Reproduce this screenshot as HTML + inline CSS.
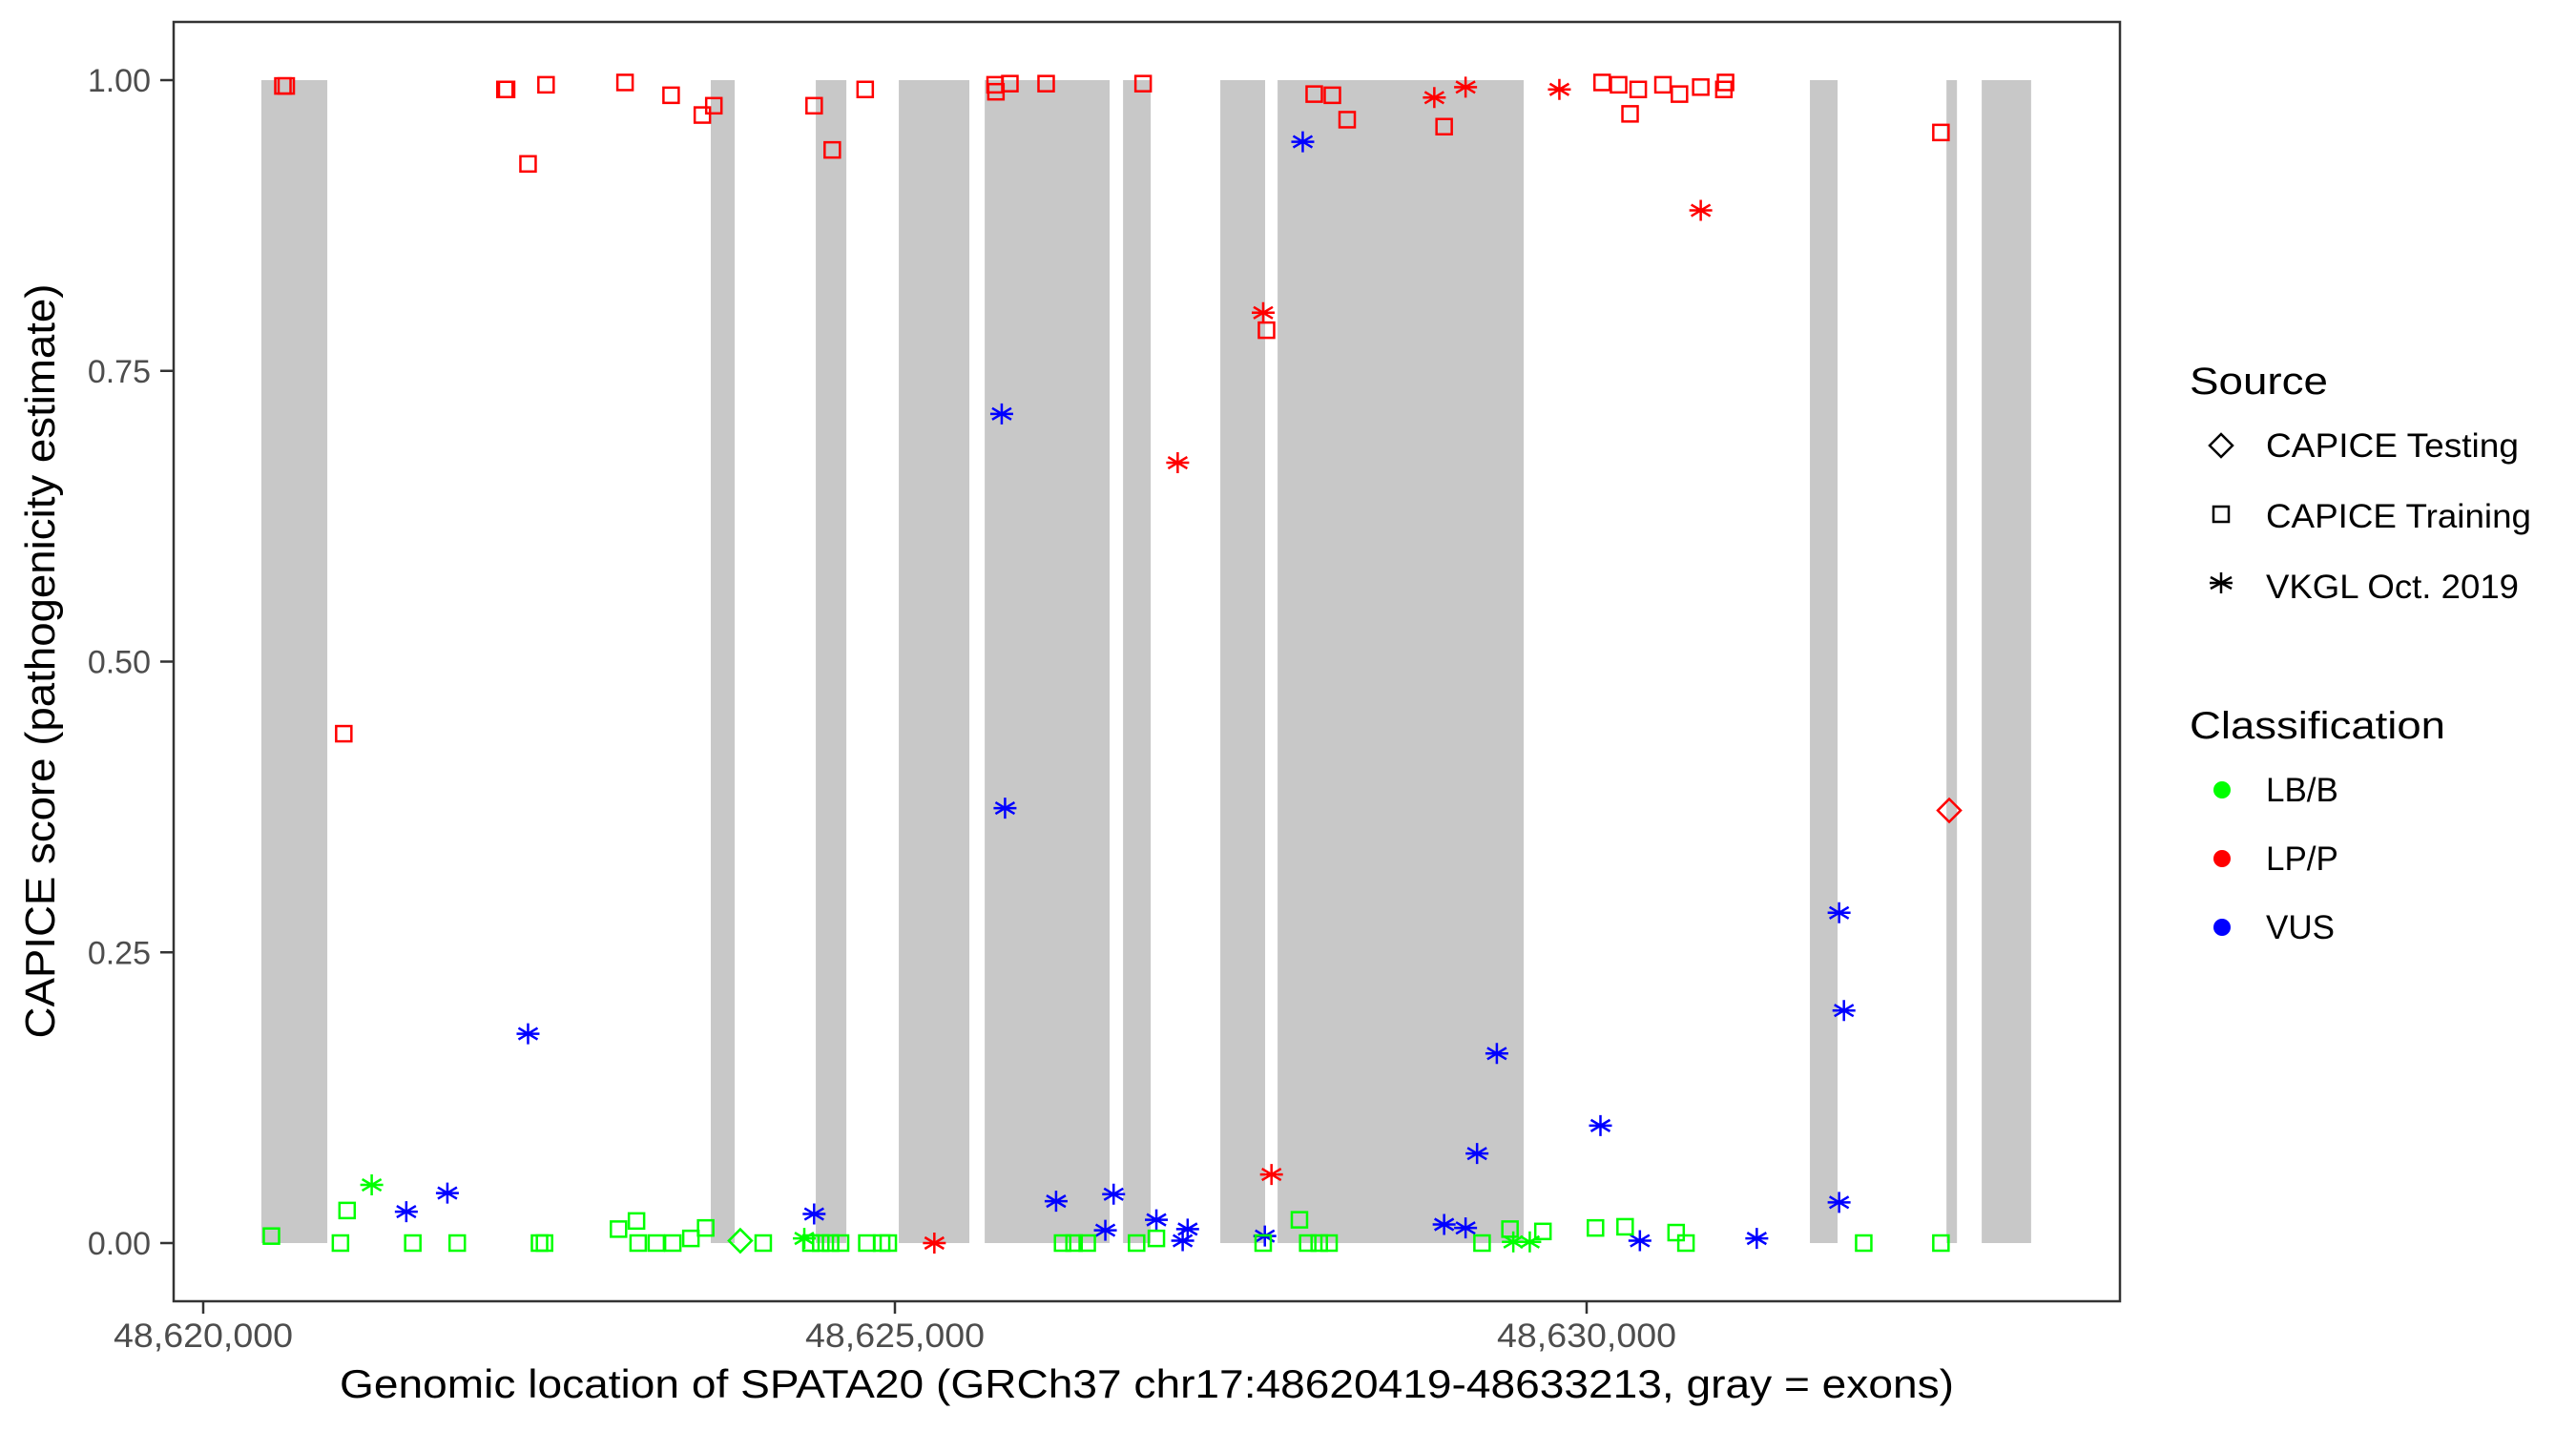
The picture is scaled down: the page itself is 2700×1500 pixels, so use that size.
<!DOCTYPE html>
<html><head><meta charset="utf-8"><style>
html,body{margin:0;padding:0;background:#fff;}
svg{display:block;font-family:"Liberation Sans",Arial,sans-serif;}
</style></head><body>
<svg id="chart" width="2700" height="1500" viewBox="0 0 2700 1500" xmlns="http://www.w3.org/2000/svg">
<rect x="0" y="0" width="2700" height="1500" fill="#fff"/>
<g id="exons"></g>
<g id="points"></g>
<rect x="182" y="23" width="2040" height="1341" fill="none" stroke="#333" stroke-width="2.5"/>
<g id="yaxis"></g>
<g id="xaxis"></g>
<text x="1202" y="1465" font-size="42" text-anchor="middle" fill="#000" textLength="1692" lengthAdjust="spacingAndGlyphs">Genomic location of SPATA20 (GRCh37 chr17:48620419-48633213, gray = exons)</text>
<text transform="translate(57,693) rotate(-90)" font-size="44" text-anchor="middle" fill="#000" textLength="791" lengthAdjust="spacingAndGlyphs">CAPICE score (pathogenicity estimate)</text>
<g>
<text x="2295" y="413" font-size="40" fill="#000" textLength="145" lengthAdjust="spacingAndGlyphs">Source</text>
<g>
<path d="M2328,455 L2340,467 L2328,479 L2316,467 Z" fill="none" stroke="#000" stroke-width="2.5"/>
<text x="2375" y="479" font-size="35" fill="#000" textLength="265" lengthAdjust="spacingAndGlyphs">CAPICE Testing</text></g>
<g>
<rect x="2320" y="531" width="16" height="16" fill="none" stroke="#000" stroke-width="2.5"/>
<text x="2375" y="553" font-size="35" fill="#000" textLength="278" lengthAdjust="spacingAndGlyphs">CAPICE Training</text></g>
<g>
<path d="M2328,600 L2328,622 M2317,605 L2339,617 M2317,617 L2339,605 M2316,611 L2340,611" stroke="#000" stroke-width="2.5"/>
<text x="2375" y="627" font-size="35" fill="#000" textLength="265" lengthAdjust="spacingAndGlyphs">VKGL Oct. 2019</text></g>
<text x="2295" y="774" font-size="40" fill="#000" textLength="268" lengthAdjust="spacingAndGlyphs">Classification</text>
<g><circle cx="2329" cy="828" r="9" fill="#00ff00"/><text x="2375" y="840" font-size="35" fill="#000">LB/B</text></g>
<g><circle cx="2329" cy="900" r="9" fill="#ff0000"/><text x="2375" y="912" font-size="35" fill="#000">LP/P</text></g>
<g><circle cx="2329" cy="972" r="9" fill="#0000ff"/><text x="2375" y="984" font-size="35" fill="#000">VUS</text></g>
</g>
</svg>
<script>
// genomic positions (offset from 48,620,000)
const exonStarts = [420, 3669, 4428, 5028, 5649, 6649, 7352, 7766, 11614, 12601, 12856];
const exonEnds   = [897, 3842, 4649, 5538, 6552, 6849, 7676, 9545, 11814, 12677, 13213];
const xTicks = [48620000, 48625000, 48630000];
const xTickLabels = ["48,620,000", "48,625,000", "48,630,000"];
const yTicks = [0, 0.25, 0.5, 0.75, 1];
const yTickLabels = ["0.00", "0.25", "0.50", "0.75", "1.00"];
// point data: position offset, score, source (d=testing, s=training, a=VKGL), class
const pointPos = [576,600,2181,2193,2348,2478,3049,3382,3608,3691,4416,4547,4785,5724,5730,5831,6093,6794,7686,8031,8162,8269,8970,10112,10231,10314,10373,10552,10671,10825,10992,11004,12561,1016,
5285,7044,7662,7722,8899,9125,9803,10825,
12621,
1468,1765,2348,4416,5772,5796,6165,6521,6581,6890,7080,7116,7674,7948,8970,9125,9208,9351,10100,10385,11230,11825,11860,11825,
1218,4345,9470,9589,
3882,
493,992,1040,1515,1836,2431,2467,3002,3132,3144,3275,3394,3525,3632,4048,4393,4464,4535,4607,4797,4904,4952,6212,6295,6390,6747,6890,7662,7924,7984,8067,8138,9244,9446,9684,10064,10278,10647,10718,12003,12561];
const pointScore = [0.995,0.995,0.992,0.992,0.928,0.996,0.998,0.987,0.970,0.978,0.978,0.940,0.992,0.996,0.990,0.997,0.997,0.997,0.785,0.988,0.987,0.966,0.960,0.998,0.996,0.971,0.992,0.996,0.988,0.994,0.992,0.998,0.955,0.438,
0.0,0.671,0.800,0.059,0.985,0.994,0.992,0.888,
0.372,
0.027,0.043,0.180,0.025,0.713,0.374,0.036,0.011,0.042,0.020,0.002,0.012,0.006,0.947,0.016,0.013,0.077,0.163,0.101,0.002,0.004,0.284,0.200,0.035,
0.050,0.004,0.001,0.001,
0.002,
0.006,0.0,0.028,0.0,0.0,0.0,0.0,0.012,0.019,0.0,0.0,0.0,0.004,0.013,0.0,0.0,0.0,0.0,0.0,0.0,0.0,0.0,0.0,0.0,0.0,0.0,0.004,0.0,0.020,0.0,0.0,0.0,0.0,0.012,0.010,0.013,0.014,0.009,0.0,0.0,0.0];
const pointSource = "ssssssssssssssssssssssssssssssssssaaaaaaaadaaaaaaaaaaaaaaaaaaaaaaaaaaaadsssssssssssssssssssssssssssssssssssssssss".split("");
const pointClass = "rrrrrrrrrrrrrrrrrrrrrrrrrrrrrrrrrrrrrrrrrrrbbbbbbbbbbbbbbbbbbbbbbbbgggggggggggggggggggggggggggggggggggggggggggggg".split("");

const NS = "http://www.w3.org/2000/svg";
const X0 = 48620000;
function xScale(bp){ return 213 + (bp - 48620000) * 0.145; }
function yScale(v){ return 1303 - v * 1219; }
const colors = {g:"#00ff00", r:"#ff0000", b:"#0000ff"};
function mk(tag, attrs, parent){ const e=document.createElementNS(NS,tag); for(const k in attrs) e.setAttribute(k,attrs[k]); parent.appendChild(e); return e; }

const exG = document.getElementById("exons");
for (let i=0;i<exonStarts.length;i++){
  const x1=xScale(X0+exonStarts[i]), x2=xScale(X0+exonEnds[i]);
  const r = mk("rect",{x:x1,y:yScale(1),width:x2-x1,height:yScale(0)-yScale(1),fill:"#c8c8c8"},exG);
  
  
}
const yG = document.getElementById("yaxis");
for (let i=0;i<yTicks.length;i++){
  const y=yScale(yTicks[i]);
  const l = mk("line",{x1:168,x2:182,y1:y,y2:y,stroke:"#333","stroke-width":2.5},yG);
  
  
  const t = mk("text",{x:158,y:y+12,"font-size":34,"text-anchor":"end",fill:"#4d4d4d"},yG);
  t.textContent = yTickLabels[i];
  
  
}
const xG = document.getElementById("xaxis");
for (let i=0;i<xTicks.length;i++){
  const x=xScale(xTicks[i]);
  const l = mk("line",{x1:x,x2:x,y1:1364,y2:1377,stroke:"#333","stroke-width":2.5},xG);
  
  
  const t = mk("text",{x:x,y:1412,"font-size":35,"text-anchor":"middle",fill:"#4d4d4d",textLength:188,lengthAdjust:"spacingAndGlyphs"},xG);
  t.textContent = xTickLabels[i];
  
  
}
const pG = document.getElementById("points");
for (let i=0;i<pointPos.length;i++){
  const cx=xScale(X0+pointPos[i]), cy=yScale(pointScore[i]), c=colors[pointClass[i]];
  let e;
  if (pointSource[i]==="s"){
    e = mk("rect",{x:cx-8,y:cy-8,width:16,height:16,fill:"none",stroke:c,"stroke-width":2.5},pG);
  } else if (pointSource[i]==="d"){
    e = mk("path",{d:`M${cx},${cy-12} L${cx+12},${cy} L${cx},${cy+12} L${cx-12},${cy} Z`,fill:"none",stroke:c,"stroke-width":2.5},pG);
  } else {
    e = mk("path",{d:`M${cx},${cy-11} L${cx},${cy+11} M${cx-10},${cy-6} L${cx+10},${cy+6} M${cx-10},${cy+6} L${cx+10},${cy-6} M${cx-12},${cy} L${cx+12},${cy}`,stroke:c,"stroke-width":2.5,fill:"none"},pG);
  }
  
  
}
</script>
</body></html>
